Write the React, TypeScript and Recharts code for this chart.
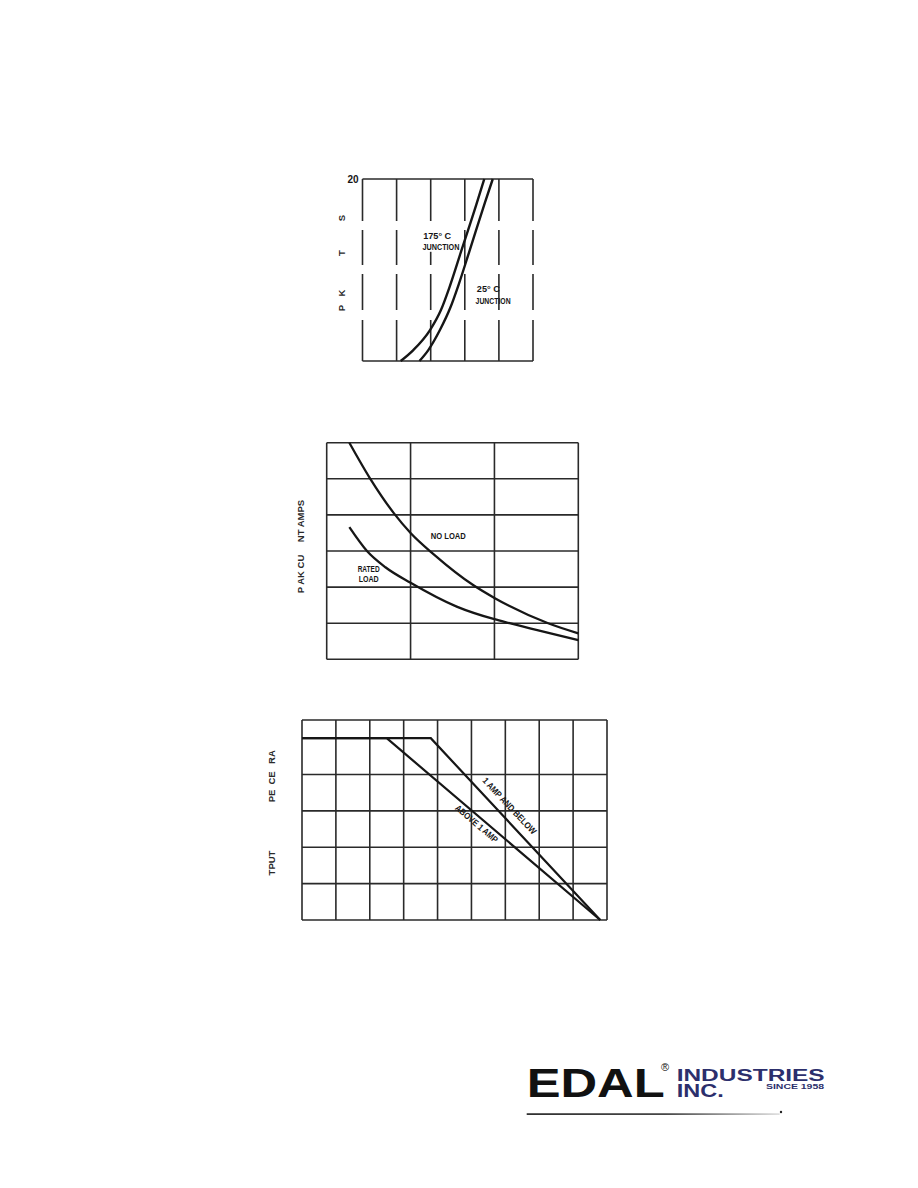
import {
  LineChart,
  Line,
  XAxis,
  YAxis,
  CartesianGrid,
  ReferenceDot,
  ReferenceArea,
} from 'recharts';

const font = '"Liberation Sans", Arial, Helvetica, sans-serif';
const ink = '#161616';
const navy = '#2c2f6c';

// chart 1 - junction temperature curves
const junctionTicksX = [0, 1, 2, 3, 4, 5];
const junctionTicksY = [0, 20];
const hot175X = [1.12, 1.49, 1.98, 2.3, 2.55, 2.88, 3.34, 3.57];
const hot175Y = [0, 1.2, 3.4, 5.6, 8.1, 11.9, 17.2, 20];
const cold25X = [1.67, 1.93, 2.27, 2.58, 2.82, 3.13, 3.59, 3.82];
const cold25Y = [0, 1.2, 3.4, 5.9, 8.4, 12.0, 17.4, 20];

// chart 2 - peak current, no load vs rated load
const loadTicksX = [0, 1, 2, 3];
const loadTicksY = [0, 1, 2, 3, 4, 5, 6];
const noLoadX = [0.27, 0.52, 0.8, 1.0, 1.28, 1.75, 2.0, 2.64, 3.0];
const noLoadY = [6, 5, 4.05, 3.5, 2.9, 2.05, 1.7, 1.0, 0.72];
const ratedLoadX = [0.27, 0.48, 0.7, 1.0, 1.55, 2.0, 2.18, 3.0];
const ratedLoadY = [3.66, 3.0, 2.55, 2.12, 1.46, 1.11, 1.0, 0.53];

// chart 3 - output percent of rating (derating)
const deratingTicksX = [0, 1, 2, 3, 4, 5, 6, 7, 8, 9];
const deratingTicksY = [0, 20, 40, 60, 80, 100, 110];
const above1AmpX = [0, 2.5, 8.8];
const above1AmpY = [100, 100, 0];
const below1AmpX = [0, 3.8, 8.8];
const below1AmpY = [100, 100, 0];

const zip = (xs: number[], ys: number[]) => xs.map((x, i) => ({ x, y: ys[i] }));

const labelShape =
  (text: string, width: number, angle = 0, size = 9.5) =>
  (p: any) => (
    <text
      x={p.cx}
      y={p.cy}
      textAnchor="middle"
      dominantBaseline="central"
      transform={angle ? `rotate(${angle} ${p.cx} ${p.cy})` : undefined}
      textLength={width}
      lengthAdjust="spacingAndGlyphs"
      fontSize={size}
      fontWeight={700}
      fontFamily={font}
      fill={ink}
    >
      {text}
    </text>
  );

function JunctionChart() {
  return (
    <div style={{ position: 'absolute', left: 300, top: 150 }}>
      <LineChart width={260} height={230} margin={{ top: 29, right: 27, bottom: 19, left: 42.5 }}>
        <CartesianGrid
          horizontal={false}
          stroke="#2a2a2a"
          strokeWidth={1.6}
          strokeDasharray="42 9 35 9 36 10 41"
        />
        <CartesianGrid vertical={false} stroke="#2a2a2a" strokeWidth={1.6} />
        <XAxis dataKey="x" type="number" domain={[0, 5]} ticks={junctionTicksX} hide />
        <YAxis
          type="number"
          domain={[0, 20]}
          ticks={junctionTicksY}
          width={20}
          axisLine={false}
          tickLine={false}
          tickSize={0}
          tickMargin={4}
          tickFormatter={(v) => (v === 20 ? '20' : '')}
          tick={{ fontSize: 10, fill: ink, fontFamily: font, fontWeight: 700 }}
        />
        <ReferenceArea x1={1.9} x2={2.1} y1={12} y2={14.6} fill="#fff" fillOpacity={1} stroke="none" />
        <Line
          data={zip(hot175X, hot175Y)}
          dataKey="y"
          type="monotone"
          stroke={ink}
          strokeWidth={2.4}
          dot={false}
          isAnimationActive={false}
        />
        <Line
          data={zip(cold25X, cold25Y)}
          dataKey="y"
          type="monotone"
          stroke={ink}
          strokeWidth={2.4}
          dot={false}
          isAnimationActive={false}
        />
        <ReferenceDot x={2.19} y={13.74} r={1} shape={labelShape('175° C', 28)} />
        <ReferenceDot x={2.3} y={12.56} r={1} shape={labelShape('JUNCTION', 37)} />
        <ReferenceDot x={3.69} y={7.99} r={1} shape={labelShape('25° C', 23)} />
        <ReferenceDot x={3.83} y={6.7} r={1} shape={labelShape('JUNCTION', 35)} />
      </LineChart>
    </div>
  );
}

function LoadChart() {
  return (
    <div style={{ position: 'absolute', left: 300, top: 420 }}>
      <LineChart width={300} height={260} margin={{ top: 22.7, right: 21.7, bottom: 20.7, left: 26.7 }}>
        <CartesianGrid stroke="#2a2a2a" strokeWidth={1.6} />
        <XAxis dataKey="x" type="number" domain={[0, 3]} ticks={loadTicksX} hide />
        <YAxis type="number" domain={[0, 6]} ticks={loadTicksY} hide />
        <Line
          data={zip(noLoadX, noLoadY)}
          dataKey="y"
          type="monotone"
          stroke={ink}
          strokeWidth={2.3}
          dot={false}
          isAnimationActive={false}
        />
        <Line
          data={zip(ratedLoadX, ratedLoadY)}
          dataKey="y"
          type="monotone"
          stroke={ink}
          strokeWidth={2.3}
          dot={false}
          isAnimationActive={false}
        />
        <ReferenceDot x={1.45} y={3.42} r={1} shape={labelShape('NO LOAD', 35)} />
        <ReferenceDot x={0.5} y={2.52} r={1} shape={labelShape('RATED', 22)} />
        <ReferenceDot x={0.5} y={2.24} r={1} shape={labelShape('LOAD', 20)} />
      </LineChart>
    </div>
  );
}

function DeratingChart() {
  return (
    <div style={{ position: 'absolute', left: 280, top: 700 }}>
      <LineChart width={350} height={240} margin={{ top: 20, right: 23, bottom: 20, left: 22 }}>
        <CartesianGrid stroke="#2a2a2a" strokeWidth={1.6} />
        <XAxis dataKey="x" type="number" domain={[0, 9]} ticks={deratingTicksX} hide />
        <YAxis type="number" domain={[0, 110]} ticks={deratingTicksY} hide />
        <Line
          data={zip(above1AmpX, above1AmpY)}
          dataKey="y"
          type="linear"
          stroke={ink}
          strokeWidth={2.2}
          dot={false}
          isAnimationActive={false}
        />
        <Line
          data={zip(below1AmpX, below1AmpY)}
          dataKey="y"
          type="linear"
          stroke={ink}
          strokeWidth={2.2}
          dot={false}
          isAnimationActive={false}
        />
        <ReferenceDot x={6.12} y={62.7} r={1} shape={labelShape('1 AMP AND BELOW', 74, 46.8, 9)} />
        <ReferenceDot x={5.15} y={52.9} r={1} shape={labelShape('ABOVE 1 AMP', 53, 40.4, 9)} />
      </LineChart>
    </div>
  );
}

const vText = (text: string, x: number, y: number, key: string) => (
  <text
    key={key}
    x={x}
    y={y}
    transform={`rotate(-90 ${x} ${y})`}
    textAnchor="middle"
    dominantBaseline="central"
    fontSize={9.5}
    fontWeight={700}
    fontFamily={font}
    fill="#2a2a2a"
  >
    {text}
  </text>
);

function Overlay() {
  return (
    <svg
      width={918}
      height={1188}
      style={{ position: 'absolute', left: 0, top: 0, pointerEvents: 'none' }}
    >
      <defs>
        <linearGradient id="rule" x1="0" x2="1" y1="0" y2="0">
          <stop offset="0" stopColor="#1a1a1a" />
          <stop offset="0.55" stopColor="#333" />
          <stop offset="1" stopColor="#ddd" />
        </linearGradient>
      </defs>
      {/* axis titles, partly lost in the scan */}
      {vText('S', 341.5, 218, 's')}
      {vText('T', 341.5, 253, 't')}
      {vText('K', 341.5, 293, 'k')}
      {vText('P', 341.5, 308, 'p')}
      {vText('NT AMPS', 300, 521, 'amps')}
      {vText('P AK CU', 300, 574, 'peak')}
      {vText('RA', 271.5, 757, 'ra')}
      {vText('CE', 271.5, 778, 'ce')}
      {vText('PE', 271.5, 796, 'pe')}
      {vText('TPUT', 271.5, 863, 'tput')}

      {/* logo */}
      <text
        x={526.7}
        y={1096.7}
        fontSize={40}
        fontWeight={700}
        fontFamily={font}
        fill="#111"
        textLength={138}
        lengthAdjust="spacingAndGlyphs"
      >
        EDAL
      </text>
      <text x={665} y={1070.5} fontSize={11} fontFamily={font} fill="#111" textAnchor="middle">
        ®
      </text>
      <text
        x={676.7}
        y={1080.7}
        fontSize={16.8}
        fontWeight={700}
        fontFamily={font}
        fill={navy}
        textLength={148}
        lengthAdjust="spacingAndGlyphs"
      >
        INDUSTRIES
      </text>
      <text
        x={676.7}
        y={1096.7}
        fontSize={18}
        fontWeight={700}
        fontFamily={font}
        fill={navy}
        textLength={47}
        lengthAdjust="spacingAndGlyphs"
      >
        INC.
      </text>
      <text
        x={766}
        y={1089.3}
        fontSize={7}
        fontWeight={700}
        fontFamily={font}
        fill={navy}
        textLength={58}
        lengthAdjust="spacingAndGlyphs"
      >
        SINCE 1958
      </text>
      <rect x={526.7} y={1113.3} width={253} height={1.6} fill="url(#rule)" />
      <circle cx={781} cy={1112} r={1.2} fill="#222" />
    </svg>
  );
}

export default function App() {
  return (
    <div
      style={{
        position: 'absolute',
        left: 0,
        top: 0,
        width: 918,
        height: 1188,
        background: '#fff',
        overflow: 'hidden',
      }}
    >
      <JunctionChart />
      <LoadChart />
      <DeratingChart />
      <Overlay />
    </div>
  );
}
